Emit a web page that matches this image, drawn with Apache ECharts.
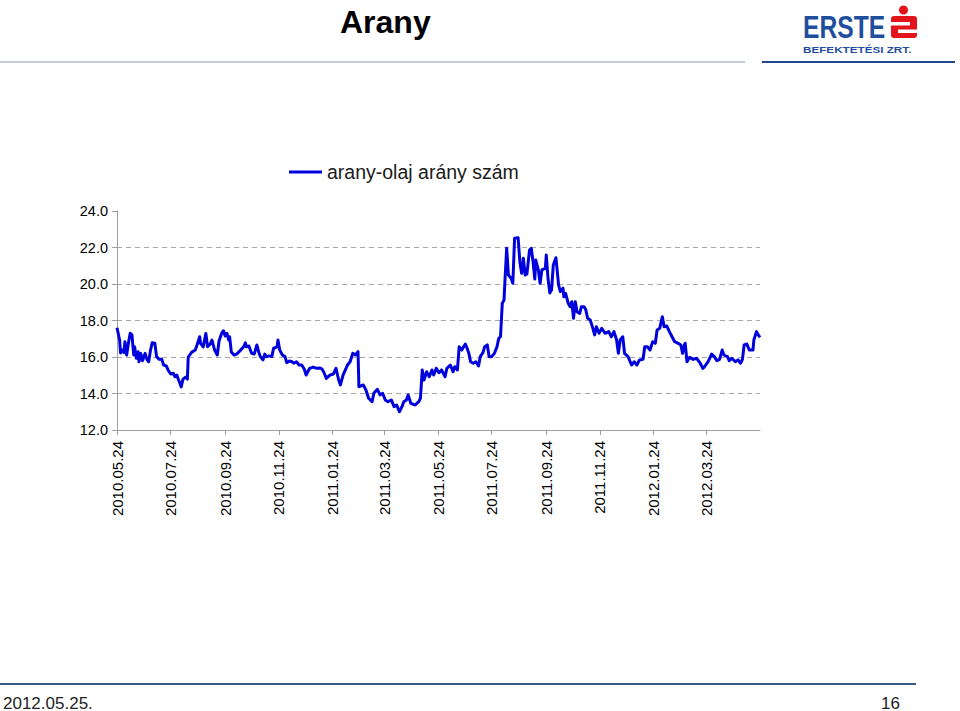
<!DOCTYPE html>
<html><head><meta charset="utf-8">
<script src="https://cdn.jsdelivr.net/npm/echarts@6/dist/echarts.min.js"></script>
<style>html,body{margin:0;padding:0;background:#fff}#c{width:960px;height:711px}</style>
</head><body><div id="c"></div>
<script>
const chartTitle = 'Arany';
const seriesName = 'arany-olaj arány szám';
const footerDate = '2012.05.25.';
const pageNumber = '16';
const axisStart = [2010, 5, 24];
const axisEnd = [2012, 5, 24];
const tickLabels = ['2010.05.24','2010.07.24','2010.09.24','2010.11.24','2011.01.24','2011.03.24',
  '2011.05.24','2011.07.24','2011.09.24','2011.11.24','2012.01.24','2012.03.24'];
const yMin = 12, yMax = 24, yStep = 2;

const dates = [
'2010.05.24','2010.05.27','2010.05.28','2010.05.30','2010.06.01','2010.06.02','2010.06.04','2010.06.06','2010.06.08','2010.06.10',
'2010.06.12','2010.06.13','2010.06.15','2010.06.17','2010.06.18','2010.06.20','2010.06.22','2010.06.25','2010.06.27','2010.06.29',
'2010.07.01','2010.07.03','2010.07.06','2010.07.08','2010.07.11','2010.07.14','2010.07.16','2010.07.19','2010.07.21','2010.07.24',
'2010.07.27','2010.07.29','2010.07.31','2010.08.02','2010.08.03','2010.08.05','2010.08.07','2010.08.10','2010.08.12','2010.08.13',
'2010.08.17','2010.08.21','2010.08.23','2010.08.26','2010.08.27','2010.08.30','2010.09.02','2010.09.04','2010.09.07','2010.09.09',
'2010.09.12','2010.09.15','2010.09.17','2010.09.20','2010.09.22','2010.09.24','2010.09.26','2010.09.28','2010.09.29','2010.10.01',
'2010.10.04','2010.10.07','2010.10.11','2010.10.15','2010.10.17','2010.10.18','2010.10.21','2010.10.24','2010.10.27','2010.10.30',
'2010.11.01','2010.11.03','2010.11.06','2010.11.08','2010.11.10','2010.11.13','2010.11.16','2010.11.18','2010.11.22','2010.11.23',
'2010.11.25','2010.11.28','2010.12.01','2010.12.03','2010.12.06','2010.12.09','2010.12.11','2010.12.14','2010.12.17','2010.12.20',
'2010.12.23','2010.12.25','2010.12.29','2011.01.02','2011.01.06','2011.01.10','2011.01.12','2011.01.14','2011.01.17','2011.01.21',
'2011.01.25','2011.01.28','2011.01.31','2011.02.02','2011.02.05','2011.02.10','2011.02.13','2011.02.16','2011.02.19','2011.02.22',
'2011.02.23','2011.02.28','2011.03.03','2011.03.06','2011.03.10','2011.03.12','2011.03.16','2011.03.19','2011.03.22','2011.03.25',
'2011.03.28','2011.04.01','2011.04.04','2011.04.07','2011.04.10','2011.04.13','2011.04.15','2011.04.18','2011.04.20','2011.04.23',
'2011.04.28','2011.05.02','2011.05.04','2011.05.06','2011.05.08','2011.05.11','2011.05.14','2011.05.17','2011.05.19','2011.05.22',
'2011.05.25','2011.05.28','2011.06.01','2011.06.03','2011.06.07','2011.06.10','2011.06.12','2011.06.15','2011.06.17','2011.06.20',
'2011.06.22','2011.06.24','2011.06.26','2011.06.28','2011.06.30','2011.07.03','2011.07.06','2011.07.09','2011.07.11','2011.07.14',
'2011.07.16','2011.07.19','2011.07.21','2011.07.24','2011.07.27','2011.07.30','2011.08.01','2011.08.03','2011.08.05','2011.08.07',
'2011.08.08','2011.08.10','2011.08.12','2011.08.15','2011.08.17','2011.08.19','2011.08.23','2011.08.25','2011.08.27','2011.08.29',
'2011.08.31','2011.09.02','2011.09.05','2011.09.07','2011.09.09','2011.09.11','2011.09.12','2011.09.15','2011.09.17','2011.09.19',
'2011.09.23','2011.09.24','2011.09.26','2011.09.28','2011.09.30','2011.10.02','2011.10.05','2011.10.08','2011.10.10','2011.10.13',
'2011.10.14','2011.10.16','2011.10.19','2011.10.21','2011.10.23','2011.10.25','2011.10.27','2011.10.29','2011.11.01','2011.11.03',
'2011.11.06','2011.11.08','2011.11.10','2011.11.13','2011.11.16','2011.11.18','2011.11.20','2011.11.23','2011.11.26','2011.11.30',
'2011.12.04','2011.12.07','2011.12.10','2011.12.13','2011.12.15','2011.12.17','2011.12.20','2011.12.22','2011.12.26','2011.12.30',
'2012.01.02','2012.01.05','2012.01.08','2012.01.12','2012.01.14','2012.01.17','2012.01.20','2012.01.23','2012.01.26','2012.01.28',
'2012.01.31','2012.02.03','2012.02.05','2012.02.08','2012.02.11','2012.02.14','2012.02.17','2012.02.21','2012.02.24','2012.02.26',
'2012.02.28','2012.02.29','2012.03.02','2012.03.05','2012.03.09','2012.03.13','2012.03.17','2012.03.20','2012.03.22','2012.03.26',
'2012.03.30','2012.04.02','2012.04.05','2012.04.08','2012.04.11','2012.04.13','2012.04.17','2012.04.19','2012.04.22','2012.04.26',
'2012.04.29','2012.05.02','2012.05.04','2012.05.06','2012.05.09','2012.05.12','2012.05.16','2012.05.17','2012.05.20','2012.05.22',
'2012.05.24'
];
const values = [
17.60,16.93,16.22,16.38,16.24,16.84,16.11,16.77,17.30,17.21,
16.11,16.56,15.93,16.29,15.74,16.20,15.80,16.20,15.87,15.74,
16.35,16.78,16.75,16.02,15.87,15.87,15.56,15.51,15.29,15.07,
15.11,14.92,15.01,14.74,14.63,14.36,14.79,14.90,14.79,16.00,
16.27,16.38,16.66,17.11,16.75,16.55,17.29,16.56,16.71,16.93,
16.38,16.11,16.88,17.30,17.44,17.15,17.30,16.93,17.11,16.27,
16.11,16.16,16.35,16.56,16.78,16.56,16.60,16.20,16.16,16.66,
16.29,16.02,15.84,16.16,16.02,16.06,16.02,16.48,16.56,16.93,
16.38,16.11,16.02,15.69,15.78,15.74,15.66,15.74,15.56,15.56,
15.33,15.01,15.38,15.45,15.38,15.40,15.34,15.18,14.83,15.01,
15.07,15.38,14.74,14.47,15.01,15.56,15.74,16.20,16.11,16.29,
14.37,14.47,14.19,13.74,13.55,14.01,14.23,13.92,14.01,13.64,
13.55,13.64,13.28,13.37,13.00,13.28,13.55,13.64,13.92,13.46,
13.37,13.55,13.74,15.29,14.74,15.19,14.92,15.29,15.01,15.38,
15.14,15.29,14.92,15.38,15.56,15.19,15.47,15.29,16.56,16.38,
16.56,16.71,16.48,16.20,15.74,15.66,15.74,15.51,16.02,16.24,
16.56,16.66,16.02,16.02,16.20,16.56,17.02,17.11,18.94,19.12,
20.13,21.96,20.49,20.31,20.04,22.51,22.54,21.21,20.59,21.41,
20.49,20.55,21.86,21.96,21.21,20.27,21.32,20.77,20.04,20.77,
20.86,21.59,20.31,19.51,19.67,21.04,21.44,19.95,19.58,19.77,
19.30,19.49,18.94,18.76,19.03,18.12,19.03,18.48,18.39,18.76,
18.76,18.58,18.12,18.03,17.57,17.21,17.66,17.30,17.57,17.30,
17.39,17.11,17.39,16.93,16.20,16.93,17.11,16.20,16.02,15.56,
15.74,15.56,15.84,15.87,16.56,16.56,16.38,16.84,16.75,17.48,
17.57,18.21,17.66,17.70,17.39,17.11,16.84,16.75,16.66,16.20,
16.66,16.75,15.74,15.98,15.87,15.93,15.66,15.38,15.47,15.74,
16.16,16.02,15.80,15.87,16.38,16.11,16.02,15.80,15.93,15.74,
15.84,15.66,15.87,16.66,16.71,16.38,16.38,16.93,17.39,17.21,
17.08
];

// calendar-day categories for the date axis
function pad(n) { return (n < 10 ? '0' : '') + n; }
const categories = [];
for (let t = Date.UTC(axisStart[0], axisStart[1] - 1, axisStart[2]);
     t <= Date.UTC(axisEnd[0], axisEnd[1] - 1, axisEnd[2]); t += 86400000) {
  const d = new Date(t);
  categories.push(d.getUTCFullYear() + '.' + pad(d.getUTCMonth() + 1) + '.' + pad(d.getUTCDate()));
}
const showTick = function (idx, val) { return tickLabels.indexOf(val) >= 0; };

const FONT = "'Liberation Sans', Arial, sans-serif";
const chart = echarts.init(document.getElementById('c'), null, { renderer: 'svg' });
chart.setOption({
  animation: false,
  backgroundColor: '#ffffff',
  grid: { left: 117, right: 200, top: 211, bottom: 281, containLabel: false },
  legend: {
    data: [{ name: seriesName, icon: 'rect' }],
    left: 289, top: 162, padding: 0,
    itemWidth: 33, itemHeight: 3, itemGap: 5,
    textStyle: { fontFamily: FONT, fontSize: 19.5, color: '#1a1a1a' }
  },
  xAxis: {
    type: 'category',
    data: categories,
    boundaryGap: false,
    axisLine: { show: true, lineStyle: { color: '#a0a0a0', width: 1 } },
    axisTick: { show: true, interval: showTick, length: 5, lineStyle: { color: '#a0a0a0' } },
    axisLabel: { interval: showTick, rotate: 90, margin: 11, fontFamily: FONT, fontSize: 15, color: '#000' },
    splitLine: { show: false }
  },
  yAxis: {
    type: 'value',
    min: yMin, max: yMax, interval: yStep,
    axisLine: { show: true, lineStyle: { color: '#a0a0a0', width: 1 } },
    axisTick: { show: true, length: 5, lineStyle: { color: '#a0a0a0' } },
    axisLabel: { margin: 9, fontFamily: FONT, fontSize: 14.5, color: '#000',
      formatter: function (v) { return v.toFixed(1); } },
    splitLine: { show: true, showMaxLine: false, showMinLine: false,
      lineStyle: { color: '#a8a8a8', type: [5, 4], width: 1 } }
  },
  series: [{
    name: seriesName,
    type: 'line',
    data: dates.map(function (d, i) { return [d, values[i]]; }),
    showSymbol: false,
    symbol: 'none',
    color: '#0000dd',
    lineStyle: { color: '#0000dd', width: 3, join: 'round' }
  }],
  graphic: [
    { type: 'text', left: 340, top: 6, style: { text: chartTitle, font: "bold 32px 'Liberation Sans', Arial, sans-serif", fill: '#000' } },
    { type: 'line', shape: { x1: 0, y1: 62, x2: 745, y2: 62 }, style: { stroke: '#8c9ab0', lineWidth: 1 } },
    { type: 'line', shape: { x1: 762, y1: 62, x2: 955, y2: 62 }, style: { stroke: '#24468e', lineWidth: 2 } },
    { type: 'text', x: 803, y: 11, scaleX: 0.77,
      style: { text: 'ERSTE', font: "bold 32px 'Liberation Sans', Arial, sans-serif", fill: '#1f4f9c', align: 'left', verticalAlign: 'top' } },
    { type: 'circle', shape: { cx: 903.5, cy: 10, r: 4.5 }, style: { fill: '#e3141b' } },
    { type: 'rect', shape: { x: 891, y: 16, width: 26, height: 22, r: 3 }, style: { fill: '#e3141b' } },
    { type: 'rect', shape: { x: 891, y: 22, width: 19, height: 3.5 }, style: { fill: '#ffffff' } },
    { type: 'rect', shape: { x: 898, y: 29.5, width: 19, height: 3.5 }, style: { fill: '#ffffff' } },
    { type: 'text', x: 803, y: 45, scaleX: 1.3,
      style: { text: 'BEFEKTETÉSI ZRT.', font: "bold 9px 'Liberation Sans', Arial, sans-serif", fill: '#1f4f9c', align: 'left', verticalAlign: 'top' } },
    { type: 'line', shape: { x1: 0, y1: 684, x2: 916, y2: 684 }, style: { stroke: '#3a5a8c', lineWidth: 2 } },
    { type: 'text', x: 3, y: 703,
      style: { text: footerDate, font: "17px 'Liberation Sans', Arial, sans-serif", fill: '#222', align: 'left', verticalAlign: 'middle' } },
    { type: 'text', x: 900, y: 703,
      style: { text: pageNumber, font: "17px 'Liberation Sans', Arial, sans-serif", fill: '#222', align: 'right', verticalAlign: 'middle' } }
  ]
});
</script></body></html>
